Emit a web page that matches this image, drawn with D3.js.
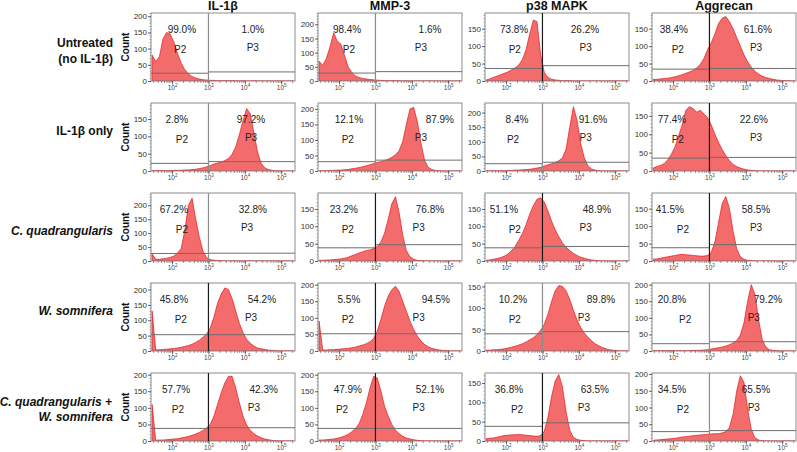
<!DOCTYPE html>
<html><head><meta charset="utf-8">
<script src="https://cdn.jsdelivr.net/npm/d3@7/dist/d3.min.js"></script>
<style>
body{margin:0;background:#fff}
svg{display:block}
text{font-family:"Liberation Sans",Arial,Helvetica,sans-serif}
</style>
</head><body>
<svg id="chart" width="797" height="452"></svg>
<script>
// ---------- DATA ----------
const markers = ["IL-1β", "MMP-3", "p38 MAPK", "Aggrecan"];
const treatments = ["Untreated (no IL-1β)", "IL-1β only", "C. quadrangularis", "W. somnifera", "C. quadrangularis + W. somnifera"];

// centres of histogram bins, log10 of fluorescence
const binLog10 = [1.45,1.55,1.65,1.75,1.85,1.95,2.05,2.15,2.25,2.35,2.45,2.55,2.65,2.75,2.85,2.95,3.05,3.15,3.25,3.35,
                  3.45,3.55,3.65,3.75,3.85,3.95,4.05,4.15,4.25,4.35,4.45,4.55,4.65,4.75,4.85,4.95,5.05,5.15,5.25,5.35];

// counts per bin, one array per marker (IL-1β, MMP-3, p38 MAPK, Aggrecan)
const untreatedCounts = [
  [80,60,75,130,150,145,120,85,55,35,22,14,9,6,4,3,2,2,1,1,1,1,1,1,0,1,0,0,1,0,0,0,0,0,0,0,0,0,0,0],
  [70,55,80,120,170,140,130,90,50,30,18,12,9,7,5,4,3,2,2,1,1,1,1,0,1,0,0,0,0,0,0,0,0,0,0,0,0,0,0,0],
  [3,6,10,14,18,22,26,32,38,46,62,90,135,175,170,75,25,10,5,3,2,1,1,1,0,0,0,0,0,0,0,0,0,0,0,0,0,0,0,0],
  [4,5,6,7,8,10,12,15,18,22,26,30,38,48,65,90,110,135,165,180,185,170,150,125,100,75,55,40,28,20,14,10,7,5,3,2,1,1,0,0]
];
const il1bOnlyCounts = [
  [1,1,1,1,1,1,2,2,2,3,3,4,5,7,9,12,16,20,23,26,30,36,48,70,105,145,180,165,110,55,22,9,4,2,1,0,0,0,0,0],
  [1,1,1,2,2,3,3,4,5,7,9,11,14,17,20,24,28,30,34,38,44,52,65,95,150,200,205,160,90,35,12,5,2,1,0,0,0,0,0,0],
  [0,0,1,1,1,1,2,2,3,3,4,5,6,8,10,13,17,21,25,29,35,45,75,150,220,175,95,45,18,7,3,1,0,0,0,0,0,0,0,0],
  [8,12,15,20,30,45,65,95,125,165,175,170,160,165,155,145,125,100,78,58,42,28,18,12,8,5,3,2,1,0,0,0,0,0,0,0,0,0,0,0]
];
const cqCounts = [
  [25,6,6,8,10,13,18,28,45,110,200,225,150,85,35,12,5,3,2,1,0,0,0,0,0,0,0,0,0,0,0,0,0,0,0,0,0,0,0,0],
  [2,2,3,3,4,5,6,8,11,15,19,23,27,30,32,36,42,55,80,120,165,185,140,75,30,12,5,2,1,0,0,0,0,0,0,0,0,0,0,0],
  [2,3,5,7,10,14,20,30,42,60,80,105,135,160,178,182,170,145,115,90,70,52,40,30,22,16,11,8,5,3,2,1,0,0,0,0,0,0,0,0],
  [5,6,8,10,12,14,16,18,19,18,17,16,15,14,14,16,25,55,110,165,185,150,85,35,12,5,2,1,0,0,0,0,0,0,0,0,0,0,0,0]
];
const wsCounts = [
  [130,4,4,5,6,7,8,10,12,15,18,22,28,35,45,55,75,110,155,185,205,200,170,130,90,60,38,25,16,10,7,5,3,2,1,0,0,0,0,0],
  [90,3,3,4,4,5,6,7,8,10,12,15,18,22,28,38,60,95,135,165,185,195,180,150,120,90,65,45,30,20,13,8,5,3,2,1,0,0,0,0],
  [2,2,3,3,4,5,7,9,11,14,17,21,26,31,38,48,62,85,115,140,152,150,140,120,95,72,55,42,32,24,17,12,8,5,3,2,1,0,0,0],
  [1,1,1,1,1,1,1,1,1,1,1,2,2,2,3,4,6,8,10,12,15,19,24,32,48,85,150,200,170,95,35,12,4,2,1,0,0,0,0,0]
];
const cqwsCounts = [
  [110,2,3,3,4,5,6,7,9,11,14,17,21,26,32,40,50,75,110,145,175,195,195,160,115,75,48,32,22,15,10,6,4,2,1,0,0,0,0,0],
  [3,3,4,5,6,8,11,15,20,28,38,52,80,115,160,195,190,150,105,75,50,33,22,14,9,6,4,2,1,0,0,0,0,0,0,0,0,0,0,0],
  [6,7,8,10,12,14,15,16,16,17,16,15,14,13,12,14,25,60,115,155,172,140,75,28,10,4,2,1,0,0,0,0,0,0,0,0,0,0,0,0],
  [2,3,4,5,6,7,8,10,12,13,14,16,17,18,19,20,21,22,22,24,28,40,80,150,195,175,95,35,10,3,1,0,0,0,0,0,0,0,0,0]
];
const allCounts = [untreatedCounts, il1bOnlyCounts, cqCounts, wsCounts, cqwsCounts];

// percentage of events in gate P2 (below 10^3) and P3 (above 10^3)
const pctP2 = [[99.0,98.4,73.8,38.4],[2.8,12.1,8.4,77.4],[67.2,23.2,51.1,41.5],[45.8,5.5,10.2,20.8],[57.7,47.9,36.8,34.5]];
const pctP3 = [[1.0,1.6,26.2,61.6],[97.2,87.9,91.6,22.6],[32.8,76.8,48.9,58.5],[54.2,94.5,89.8,79.2],[42.3,52.1,63.5,65.5]];

// count axis maximum per panel
const countMax = [[210,240,195,195],[196,219,233,185],[244,196,196,195],[221,205,158,205],[205,205,176,203]];
// marker-gate levels (count) for P2 side and P3 side
const gateP2 = [[24,28,36,34],[22,30,25,35],[27,38,38,38],[53,52,40,22],[38,38,38,28]];
const gateP3 = [[28,33,44,36],[27,35,30,37],[28,47,42,47],[53,52,45,28],[40,38,47,31]];
const gateBoundary = 1000;
const xTicks = [100, 1000, 10000, 100000];

// ---------- LAYOUT (annotation positions in log10 units) ----------
const pctP2Pos = [[2.27,2.22,2.22,2.02],[2.13,2.27,2.30,1.97],[2.05,2.13,1.94,1.91],[2.05,2.27,2.19,1.97],[2.11,2.24,2.08,1.97]];
const pctP3Pos = [[4.22,4.50,4.17,4.33],[4.17,4.77,4.39,4.22],[4.22,4.50,4.50,4.28],[4.47,4.66,4.61,4.61],[4.52,4.50,4.44,4.28]];
const tagP2Pos = [[2.22,2.27,2.24,2.13],[2.27,2.24,2.19,2.13],[2.27,2.24,2.24,2.27],[2.24,2.24,2.24,2.33],[2.16,2.08,2.30,2.27]];
const tagP3Pos = [[4.22,4.25,4.19,4.28],[4.17,4.25,4.19,4.28],[4.06,4.19,4.19,4.28],[4.17,4.19,4.14,4.22],[4.25,4.19,4.14,4.22]];
const dividerDark = [[0,0,1,1],[0,0,0,1],[0,1,1,1],[1,1,0,0],[1,1,1,0]];

// ---------- DRAW ----------
const svg = d3.select("#chart");
const colX = [151, 318, 485, 652];
const rowY = [13, 103, 193, 283, 373];
const pw = 144, ph = 68;

const x = d3.scaleLog().domain([Math.pow(10, 1.42), Math.pow(10, 5.38)]).range([0, pw]);
const minorX = [];
[10, 100, 1000, 10000, 100000].forEach(p => { for (let k = 1; k <= 9; k++) { const v = k * p; if (v >= x.domain()[0] && v <= x.domain()[1]) minorX.push(v); } });

const defs = svg.append("defs");
defs.append("clipPath").attr("id", "pclip").append("rect").attr("x", 0).attr("y", 0).attr("width", pw).attr("height", ph);

// column titles
markers.forEach((m, c) => {
  svg.append("text").attr("x", colX[c] + pw / 2).attr("y", 10).attr("text-anchor", "middle")
    .attr("font-size", 12.5).attr("font-weight", "bold").attr("fill", "#111").text(m);
});

// row labels
const rl = svg.append("g").attr("font-size", 12).attr("font-weight", "bold").attr("fill", "#111").attr("text-anchor", "end");
rl.append("text").attr("x", 113).attr("y", 47).text("Untreated");
rl.append("text").attr("x", 113).attr("y", 63).text("(no IL-1β)");
rl.append("text").attr("x", 113).attr("y", 135).text("IL-1β only");
rl.append("text").attr("x", 113).attr("y", 235).attr("font-style", "italic").text("C. quadrangularis");
rl.append("text").attr("x", 113).attr("y", 315).attr("font-style", "italic").text("W. somnifera");
rl.append("text").attr("x", 112).attr("y", 406).attr("font-style", "italic").text("C. quadrangularis +");
rl.append("text").attr("x", 113).attr("y", 421).attr("font-style", "italic").text("W. somnifera");

const area = d3.area()
  .x((d, i) => x(Math.pow(10, binLog10[i])))
  .y0(ph)
  .curve(d3.curveLinear);

allCounts.forEach((rowCounts, r) => {
  // y-axis title
  svg.append("text")
    .attr("transform", `translate(129,${rowY[r] + ph / 2}) rotate(-90)`)
    .attr("text-anchor", "middle").attr("font-size", 10).attr("font-weight", "bold").attr("fill", "#111")
    .text("Count");

  rowCounts.forEach((counts, c) => {
    const g = svg.append("g").attr("transform", `translate(${colX[c]},${rowY[r]})`);
    const y = d3.scaleLinear().domain([0, countMax[r][c]]).range([ph, 0]);

    // histogram
    g.append("path").datum(counts)
      .attr("clip-path", "url(#pclip)")
      .attr("d", area.y1(d => y(d)))
      .attr("fill", "#f36b6b").attr("stroke", "#e5171d").attr("stroke-width", 0.7)
      .attr("stroke-linejoin", "round");

    // frame
    g.append("rect").attr("x", 0).attr("y", 0).attr("width", pw).attr("height", ph)
      .attr("fill", "none").attr("stroke", "#8c8c8c").attr("stroke-width", 1);

    // gates
    const xb = x(gateBoundary);
    g.append("line").attr("x1", 0).attr("x2", xb).attr("y1", y(gateP2[r][c])).attr("y2", y(gateP2[r][c]))
      .attr("stroke", "#6e6e6e").attr("stroke-width", 1);
    g.append("line").attr("x1", xb).attr("x2", pw).attr("y1", y(gateP3[r][c])).attr("y2", y(gateP3[r][c]))
      .attr("stroke", "#6e6e6e").attr("stroke-width", 1);
    g.append("line").attr("x1", xb).attr("x2", xb).attr("y1", 0).attr("y2", ph)
      .attr("stroke", dividerDark[r][c] ? "#1a1a1a" : "#8c8c8c").attr("stroke-width", 1.2);

    // annotation text
    const fmt = d3.format(".1f");
    const tg = g.append("g").attr("font-size", 10).attr("fill", "#222").attr("text-anchor", "middle");
    tg.append("text").attr("x", x(Math.pow(10, pctP2Pos[r][c]))).attr("y", 19.5).text(fmt(pctP2[r][c]) + "%");
    tg.append("text").attr("x", x(Math.pow(10, pctP3Pos[r][c]))).attr("y", 19.5).text(fmt(pctP3[r][c]) + "%");
    tg.append("text").attr("x", x(Math.pow(10, tagP2Pos[r][c]))).attr("y", 40).text("P2");
    tg.append("text").attr("x", x(Math.pow(10, tagP3Pos[r][c]))).attr("y", 38).text("P3");

    // x axis: minor ticks
    const axMinor = g.append("g").attr("transform", `translate(0,${ph})`)
      .call(d3.axisBottom(x).tickValues(minorX).tickSize(2).tickFormat(""));
    axMinor.select(".domain").remove();
    axMinor.selectAll("line").attr("stroke", "#555").attr("stroke-width", 0.6);
    // x axis: major ticks + labels
    const axMajor = g.append("g").attr("transform", `translate(0,${ph})`)
      .call(d3.axisBottom(x).tickValues(xTicks).tickSize(3.5).tickPadding(2).tickFormat(""));
    axMajor.select(".domain").remove();
    axMajor.selectAll("line").attr("stroke", "#444").attr("stroke-width", 0.8);
    axMajor.selectAll(".tick").each(function (d) {
      const t = d3.select(this).append("text").attr("y", 8.5).attr("fill", "#444")
        .attr("font-size", 6.5).attr("text-anchor", "middle");
      t.append("tspan").text("10");
      t.append("tspan").attr("dy", -2.5).attr("font-size", 4.5).text(String(Math.round(Math.log10(d))));
    });

    // y axis
    const yMaj = d3.range(0, countMax[r][c] + 0.1, 50);
    const yMin = d3.range(0, countMax[r][c] + 0.1, 10);
    const ayMin = g.append("g").call(d3.axisLeft(y).tickValues(yMin).tickSize(1.5).tickFormat(""));
    ayMin.select(".domain").remove();
    ayMin.selectAll("line").attr("stroke", "#666").attr("stroke-width", 0.5);
    const ayMaj = g.append("g").call(d3.axisLeft(y).tickValues(yMaj).tickSize(3).tickPadding(1).tickFormat(d3.format("d")));
    ayMaj.select(".domain").remove();
    ayMaj.selectAll("line").attr("stroke", "#444").attr("stroke-width", 0.8);
    ayMaj.selectAll("text").attr("font-size", 8).attr("fill", "#333")
      .attr("font-family", '"Liberation Sans",Arial,sans-serif');
  });
});
</script>
</body></html>
